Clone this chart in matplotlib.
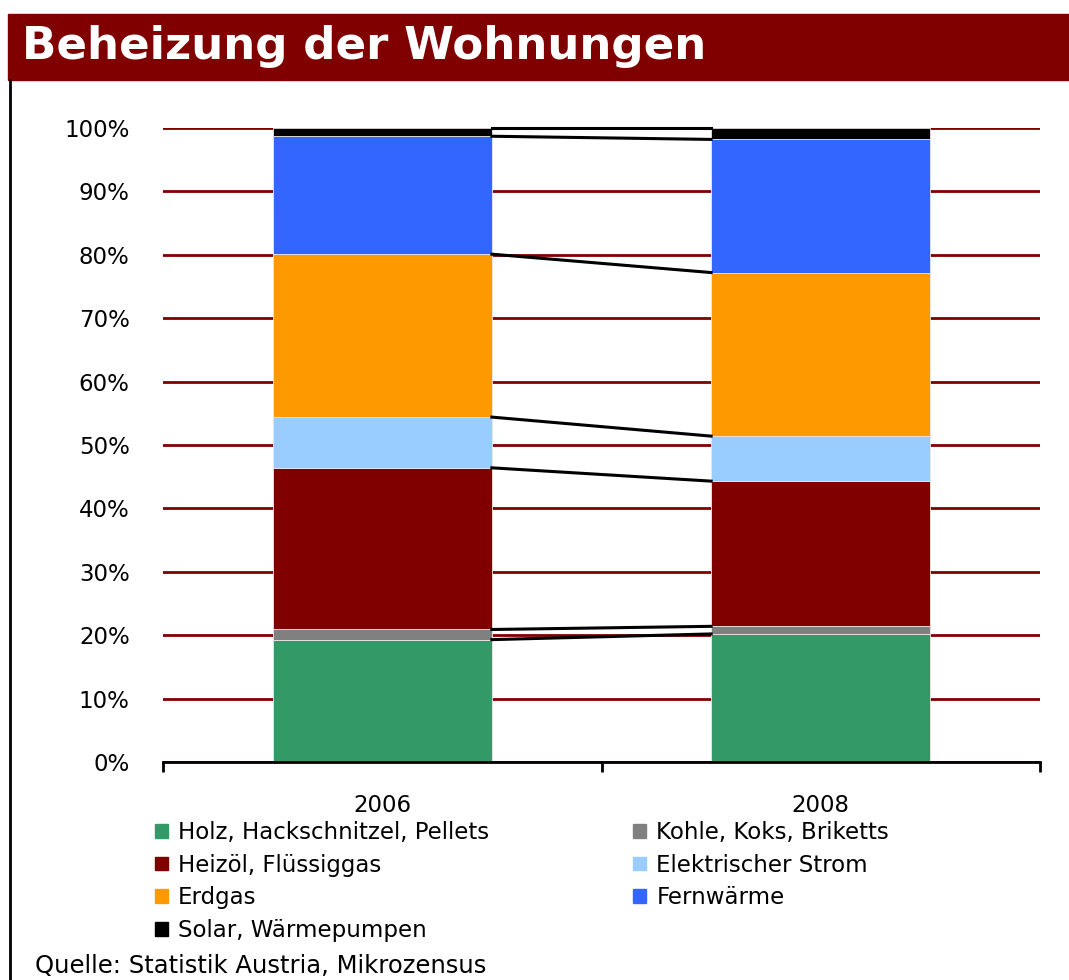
import matplotlib
matplotlib.use("Agg")
import matplotlib.pyplot as plt
from matplotlib.patches import Rectangle, Patch
from matplotlib.lines import Line2D
import numpy as np

# data (share of dwellings in %)
years = ["2006", "2008"]
categories = ["Holz, Hackschnitzel, Pellets", "Kohle, Koks, Briketts",
              "Heizöl, Flüssiggas", "Elektrischer Strom", "Erdgas",
              "Fernwärme", "Solar, Wärmepumpen"]
holz = [19.3, 20.2]
kohle = [1.6, 1.2]
heizoel = [25.5, 22.9]
strom = [8.0, 7.1]
erdgas = [25.7, 25.8]
fernwaerme = [18.6, 21.0]
solar = [1.3, 1.8]
colors = ["#339966", "#808080", "#800000", "#99CCFF", "#FF9900", "#3366FF", "#000000"]
yticks = [0, 10, 20, 30, 40, 50, 60, 70, 80, 90, 100]

series = [holz, kohle, heizoel, strom, erdgas, fernwaerme, solar]

fig = plt.figure(figsize=(10.69, 9.80), dpi=100)
W, H = 1069, 980

# title band
fig.patches.append(Rectangle((8 / W, 1 - 80 / H), 1 - 8 / W, 66 / H,
                             transform=fig.transFigure, color="#800000", zorder=0))
fig.text(22 / W, 1 - 46 / H, "Beheizung der Wohnungen", color="white",
         fontsize=32.5, fontweight="bold", ha="left", va="center")
# left frame line
fig.lines.append(Line2D([10 / W, 10 / W], [0, 1 - 80 / H], transform=fig.transFigure,
                        color="black", lw=2))

ax = fig.add_axes([163 / W, 1 - 762 / H, 877 / W, 634 / H])
x = np.arange(len(years))
bw = 0.5
bottom = np.zeros(len(years))
bounds = []
for vals, c, name in zip(series, colors, categories):
    ax.bar(x, vals, bw, bottom=bottom, color=c, label=name, zorder=3,
           edgecolor="#e8e8e8", linewidth=0.6, clip_on=False)
    bottom = bottom + np.array(vals)
    bounds.append(bottom.copy())

# series lines between bars
for b in bounds:
    ax.plot([x[0] + bw / 2, x[1] - bw / 2], [b[0], b[1]], color="black", lw=2.2,
            zorder=4, clip_on=False)

ax.set_xlim(-0.5, 1.5)
ax.set_ylim(0, 100)
ax.set_yticks(yticks)
ax.set_yticklabels([f"{t}%" for t in yticks], fontsize=16.5)
ax.tick_params(axis="y", length=0, pad=24)
ax.yaxis.grid(True, color="#800000", lw=2, zorder=0)
ax.set_axisbelow(True)

ax.set_xticks(x)
ax.set_xticklabels(years, fontsize=16.5)
ax.tick_params(axis="x", which="major", length=0, pad=23)
ax.set_xticks([-0.5, 0.5, 1.5], minor=True)
ax.tick_params(axis="x", which="minor", length=7, width=2, color="black")

for s in ["left", "right", "top"]:
    ax.spines[s].set_visible(False)
ax.spines["bottom"].set_linewidth(2)
ax.spines["bottom"].set_zorder(5)

handles = [Patch(color=c) for c in colors]
order = [0, 2, 4, 6, 1, 3, 5]
fig.legend([handles[i] for i in order], [categories[i] for i in order],
           loc="upper left", bbox_to_anchor=(155 / W, 1 - 821 / H), ncol=2,
           frameon=False, fontsize=16.5, handlelength=0.55, handleheight=0.55,
           handletextpad=0.45, labelspacing=0.42, columnspacing=6.3,
           borderaxespad=0, borderpad=0)

fig.text(35 / W, 1 - 966 / H, "Quelle: Statistik Austria, Mikrozensus",
         fontsize=17.5, ha="left", va="center")

fig.savefig("out.png", dpi=100)
